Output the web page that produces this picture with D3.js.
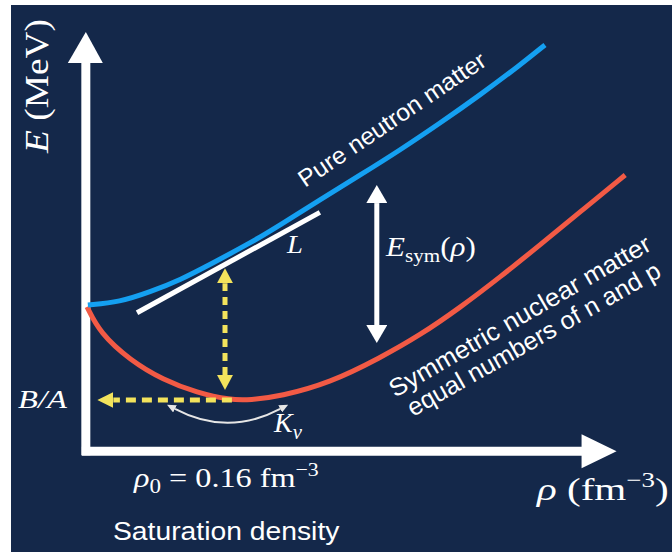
<!DOCTYPE html>
<html>
<head>
<meta charset="utf-8">
<script src="https://cdn.jsdelivr.net/npm/d3@7/dist/d3.min.js"></script>
<style>
  body { margin: 0; background: #ffffff; }
  svg { display: block; }
</style>
</head>
<body>
<svg id="chart" width="672" height="552"></svg>
<script>
// Energy per nucleon E (MeV) against baryon density rho (fm^-3)

// pure neutron matter
const rhoNeutron = [0.001, 0.038, 0.073, 0.108, 0.146, 0.189, 0.224, 0.270, 0.317, 0.363, 0.409, 0.456, 0.502, 0.531];
const eNeutron   = [0.0, 0.5, 2.2, 4.2, 7.1, 10.4, 13.5, 17.7, 21.9, 26.1, 30.6, 35.4, 40.4, 43.8];

// symmetric nuclear matter (equal numbers of n and p)
const rhoSymmetric = [0.0, 0.015, 0.050, 0.088, 0.128, 0.166, 0.189, 0.224, 0.282, 0.340, 0.386, 0.432, 0.479, 0.525, 0.572, 0.624];
const eSymmetric   = [-0.3, -4.7, -9.3, -12.6, -14.8, -16.0, -16.0, -15.4, -13.1, -8.9, -5.1, -0.5, 4.7, 10.1, 15.7, 21.9];

// slope parameter L: straight line along the neutron-matter curve
const rhoSlope = [0.058, 0.270];
const eSlope   = [-1.3, 15.6];

// saturation point
const rho0 = 0.16;          // fm^-3
const bindingEnergy = -16;  // B/A, MeV

// vertical marker at rho0 (MeV range), horizontal marker to the E axis (rho range)
const eRho0Marker = [-14.3, 6.2];
const rhoBindingMarker = [0.168, 0.012];

// symmetry energy arrow
const rhoSymArrow = 0.336;
const eSymArrow   = [-6.4, 20.2];

// incompressibility K_v arc: end densities, end energy, sag energy
const rhoKv = [0.102, 0.224];
const eKv   = [-17.5, -22.2];

// axis extents
const rhoAxis = [-0.006, 0.614];
const eAxis   = [-25.3, 46.0];

const svg = d3.select("#chart");
const W = 672, H = 552;

const x = d3.scaleLinear().domain([0, rho0]).range([87, 225]);
const y = d3.scaleLinear().domain([bindingEnergy, 0]).range([400, 305]);

const NAVY = "#14284a", BLUE = "#14a0f2", RED = "#f25a45", YELLOW = "#f3e35c", WHITE = "#ffffff";
const SERIF = "'Liberation Serif', 'Times New Roman', serif";
const SANS = "'Liberation Sans', Arial, sans-serif";

svg.append("rect").attr("x", 11).attr("y", 5).attr("width", W - 11).attr("height", H - 5).attr("fill", NAVY);

// arrowhead markers
const defs = svg.append("defs");
function head(id, len, wid, color) {
  defs.append("marker")
    .attr("id", id)
    .attr("viewBox", `0 0 ${len} ${wid}`)
    .attr("refX", 0).attr("refY", wid / 2)
    .attr("markerWidth", len).attr("markerHeight", wid)
    .attr("markerUnits", "userSpaceOnUse")
    .attr("orient", "auto-start-reverse")
    .append("path")
    .attr("d", `M0,0L${len},${wid / 2}L0,${wid}Z`)
    .attr("fill", color);
}
head("hWhite", 18, 21, WHITE);
head("hYellowV", 15, 16, YELLOW);
head("hYellowH", 16, 16, YELLOW);
head("hKv", 9, 8, "#e6e6e6");

// axes (no ticks) with arrow tips
const axisRhoScale = d3.scaleLinear().domain(rhoAxis).range(rhoAxis.map(x));
const axisEScale = d3.scaleLinear().domain(eAxis).range(eAxis.map(y));
const xAx = svg.append("g").attr("transform", `translate(0,${y(eAxis[0]) - 4})`)
  .call(d3.axisBottom(axisRhoScale).tickValues([]).tickSizeOuter(0));
xAx.select(".domain").attr("stroke", WHITE).attr("stroke-width", 9)
  .attr("d", `M${x(rhoAxis[0])},0H${x(rhoAxis[1]) - 34}`);
const yAx = svg.append("g").attr("transform", `translate(${x(rhoAxis[0]) + 4},0)`)
  .call(d3.axisLeft(axisEScale).tickValues([]).tickSizeOuter(0));
yAx.select(".domain").attr("stroke", WHITE).attr("stroke-width", 9)
  .attr("d", `M0,${y(eAxis[0])}V${y(eAxis[1]) + 30}`);

const xTip = x(rhoAxis[1]), xAxY = y(eAxis[0]) - 4;
svg.append("path").attr("fill", WHITE)
  .attr("d", `M${xTip - 35},${xAxY - 17}L${xTip},${xAxY}L${xTip - 35},${xAxY + 17}Z`);
const yTip = y(eAxis[1]), yAxX = x(rhoAxis[0]) + 4;
svg.append("path").attr("fill", WHITE)
  .attr("d", `M${yAxX - 18},${yTip + 31}L${yAxX},${yTip}L${yAxX + 17},${yTip + 31}Z`);

// curves
const line = d3.line().x(d => x(d[0])).y(d => y(d[1])).curve(d3.curveBasis);
svg.append("path").datum(d3.zip(rhoSymmetric, eSymmetric))
  .attr("d", line).attr("fill", "none").attr("stroke", RED).attr("stroke-width", 5).attr("stroke-linecap", "butt");
svg.append("path").datum(d3.zip(rhoNeutron, eNeutron))
  .attr("d", line).attr("fill", "none").attr("stroke", BLUE).attr("stroke-width", 5).attr("stroke-linecap", "butt");
svg.append("line")
  .attr("x1", x(rhoSlope[0])).attr("y1", y(eSlope[0]))
  .attr("x2", x(rhoSlope[1])).attr("y2", y(eSlope[1]))
  .attr("stroke", WHITE).attr("stroke-width", 5);

// yellow dashed markers
svg.append("line")
  .attr("x1", x(rho0)).attr("x2", x(rho0))
  .attr("y1", y(eRho0Marker[0]) - 15).attr("y2", y(eRho0Marker[1]) + 15)
  .attr("stroke", YELLOW).attr("stroke-width", 5).attr("stroke-dasharray", "8,6")
  .attr("marker-start", "url(#hYellowV)").attr("marker-end", "url(#hYellowV)");
svg.append("line")
  .attr("x1", x(rhoBindingMarker[0])).attr("x2", x(rhoBindingMarker[1]) + 16)
  .attr("y1", y(bindingEnergy)).attr("y2", y(bindingEnergy))
  .attr("stroke", YELLOW).attr("stroke-width", 5).attr("stroke-dasharray", "10,6")
  .attr("marker-end", "url(#hYellowH)");

// symmetry energy arrow
svg.append("line")
  .attr("x1", x(rhoSymArrow)).attr("x2", x(rhoSymArrow))
  .attr("y1", y(eSymArrow[0]) - 18).attr("y2", y(eSymArrow[1]) + 18)
  .attr("stroke", WHITE).attr("stroke-width", 5)
  .attr("marker-start", "url(#hWhite)").attr("marker-end", "url(#hWhite)");

// K_v arc
svg.append("path")
  .attr("d", `M${x(rhoKv[0])},${y(eKv[0])}Q${(x(rhoKv[0]) + x(rhoKv[1])) / 2},${y(eKv[1])} ${x(rhoKv[1])},${y(eKv[0])}`)
  .attr("fill", "none").attr("stroke", "#e6e6e6").attr("stroke-width", 2)
  .attr("marker-start", "url(#hKv)").attr("marker-end", "url(#hKv)");

// text: positioned group, optional rotation, stretched along the baseline to a set width
function label(parts, o) {
  const g = svg.append("g").attr("transform", `translate(${o.x},${o.y}) rotate(${o.rot || 0})`);
  const t = g.append("text").attr("fill", WHITE)
    .attr("font-family", o.family).attr("font-size", o.size)
    .attr("text-anchor", o.anchor || "start");
  parts.forEach(p => {
    const s = t.append("tspan").text(p.t);
    if (p.i) s.attr("font-style", "italic");
    if (p.fs) s.attr("font-size", p.fs);
    if (p.dy) s.attr("dy", p.dy);
  });
  if (o.width) {
    const w = t.node().getBBox().width;
    t.attr("transform", `scale(${o.width / w},1)`);
  }
  return t;
}

label([{ t: "E", i: 1 }, { t: " (MeV)" }],
  { x: 48, y: 86, rot: -90, anchor: "middle", family: SERIF, size: 34, width: 135 });

label([{ t: "L", i: 1 }], { x: 287, y: 253, family: SERIF, size: 26, width: 17 });

label([{ t: "E", i: 1 }, { t: "sym", fs: 19, dy: 6 }, { t: "(", dy: -6 }, { t: "ρ", i: 1 }, { t: ")" }],
  { x: 386, y: 256, family: SERIF, size: 28, width: 91 });

label([{ t: "K", i: 1 }, { t: "v", i: 1, fs: 20, dy: 7 }],
  { x: 274, y: 432, family: SERIF, size: 27, width: 29 });

label([{ t: "B/A", i: 1 }], { x: 18, y: 408, family: SERIF, size: 26, width: 49 });

label([{ t: "ρ", i: 1 }, { t: "0", fs: 20, dy: 6 }, { t: " = 0.16 fm", dy: -6 }, { t: "−3", fs: 19, dy: -11 }],
  { x: 134, y: 487, family: SERIF, size: 28, width: 186 });

label([{ t: "ρ", i: 1 }, { t: " (fm" }, { t: "−3", fs: 21, dy: -13 }, { t: ")", dy: 13 }],
  { x: 537, y: 500, family: SERIF, size: 32, width: 133 });

label([{ t: "Saturation density" }],
  { x: 113, y: 540, family: SANS, size: 25, width: 227 });

label([{ t: "Pure neutron matter" }],
  { x: 305, y: 188, rot: -34, family: SANS, size: 24, width: 221 });

label([{ t: "Symmetric nuclear matter" }],
  { x: 395, y: 398, rot: -30, family: SANS, size: 25, width: 298 });

label([{ t: "equal numbers of n and p" }],
  { x: 413, y: 417, rot: -29.5, family: SANS, size: 25, width: 287 });
</script>
</body>
</html>
